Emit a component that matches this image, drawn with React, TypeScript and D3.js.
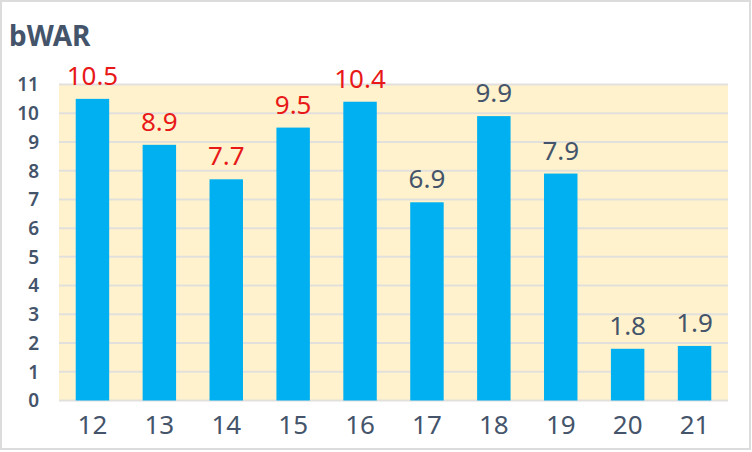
import * as d3 from "d3";

// ---------------------------------------------------------------------------
// Data
// ---------------------------------------------------------------------------

const SEASONS = ["12", "13", "14", "15", "16", "17", "18", "19", "20", "21"];
const BWAR = [10.5, 8.9, 7.7, 9.5, 10.4, 6.9, 9.9, 7.9, 1.8, 1.9];
const HIGHLIGHT = [true, true, true, true, true, false, false, false, false, false];
const Y_TICKS = [0, 1, 2, 3, 4, 5, 6, 7, 8, 9, 10, 11];

// ---------------------------------------------------------------------------
// Palette + layout
// ---------------------------------------------------------------------------

const W = 752;
const H = 452;
const BAR = "#00b0f0";
const PLOT_BG = "#fff2cc";
const GRID = "#e2e0dc";
const TEXT = "#44546a";
const RED = "#e81818";
const FONT = "'Noto Sans', 'Open Sans', sans-serif";

const PLOT = { left: 59, right: 728, top: 84.5, bottom: 400.5 };

export default function App() {
  const x = d3
    .scaleBand<string>()
    .domain(SEASONS)
    .range([PLOT.left, PLOT.right])
    .paddingInner(0.5)
    .paddingOuter(0.25);

  const y = d3.scaleLinear().domain([0, 11]).range([PLOT.bottom, PLOT.top]);

  return (
    <div style={{ position: "absolute", left: 0, top: 0 }}>
      <svg width={W} height={H} style={{ display: "block" }}>
        <rect x={0} y={0} width={W} height={H} fill="white" />
        <rect x={1} y={1} width={W - 3} height={H - 4} fill="white" stroke="#dcdcdc" strokeWidth={2} />

        {/* title */}
        <text x={9} y={46} fontSize={28} fontWeight={700} fontFamily={FONT} fill={TEXT}>
          bWAR
        </text>

        {/* plot background */}
        <rect
          x={PLOT.left}
          y={PLOT.top}
          width={PLOT.right - PLOT.left}
          height={PLOT.bottom - PLOT.top}
          fill={PLOT_BG}
        />

        {/* gridlines */}
        {Y_TICKS.map((t) => (
          <line
            key={t}
            x1={PLOT.left}
            x2={PLOT.right}
            y1={y(t)}
            y2={y(t)}
            stroke={GRID}
            strokeWidth={2}
          />
        ))}

        {/* y labels */}
        {Y_TICKS.map((t) => (
          <text
            key={`yl${t}`}
            x={39}
            y={y(t)}
            dy="0.36em"
            textAnchor="end"
            fontSize={19}
            fontWeight={600}
            fontFamily={FONT}
            fill={TEXT}
          >
            {t}
          </text>
        ))}

        {/* bars */}
        {SEASONS.map((s, i) => (
          <rect
            key={s}
            x={x(s)}
            y={y(BWAR[i])}
            width={x.bandwidth()}
            height={y(0) - y(BWAR[i])}
            fill={BAR}
          />
        ))}

        {/* value labels */}
        {SEASONS.map((s, i) => (
          <text
            key={`v${s}`}
            x={(x(s) ?? 0) + x.bandwidth() / 2}
            y={y(BWAR[i]) - 14}
            textAnchor="middle"
            fontSize={26}
            fontFamily={FONT}
            fill={HIGHLIGHT[i] ? RED : TEXT}
          >
            {BWAR[i].toFixed(1)}
          </text>
        ))}

        {/* x labels */}
        {SEASONS.map((s) => (
          <text
            key={`x${s}`}
            x={(x(s) ?? 0) + x.bandwidth() / 2}
            y={434}
            textAnchor="middle"
            fontSize={26}
            fontFamily={FONT}
            fill={TEXT}
          >
            {s}
          </text>
        ))}
      </svg>
    </div>
  );
}
